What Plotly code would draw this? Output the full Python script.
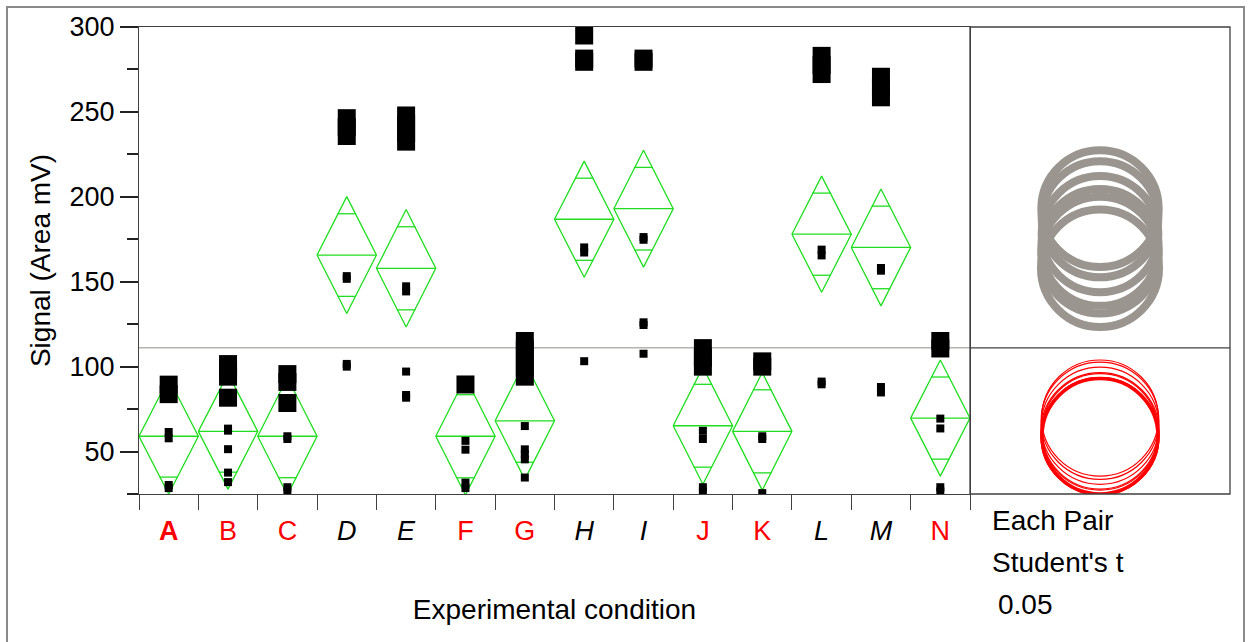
import plotly.graph_objects as go
import math

# ---------------- data ----------------
categories = ["A", "B", "C", "D", "E", "F", "G", "H", "I", "J", "K", "L", "M", "N"]
same_as_A = [True, True, True, False, False, True, True, False, False, True, True, False, False, True]
group_means = [59.0, 61.9, 59.0, 165.7, 157.9, 59.0, 68.1, 186.8, 193.0, 65.2, 61.9, 178.0, 170.2, 69.7]
ci_half = [34.0, 34.0, 34.5, 34.4, 34.6, 34.6, 34.5, 34.2, 34.4, 34.5, 34.6, 34.2, 34.4, 34.2]

# clustered (overlapping) observations, drawn with large markers
cluster_A = [89.4, 83.8]
cluster_B = [101.5, 97.8, 94.1, 81.7]
cluster_C = [95.6, 91.0, 78.6]
cluster_D = [246.3, 241.0, 235.8]
cluster_E = [247.9, 242.8, 237.6, 232.5]
cluster_F = [89.5]
cluster_G = [115.1, 110.0, 104.6, 99.3, 94.1]
cluster_H = [295.0, 281.4, 279.5]
cluster_I = [281.4, 279.5]
cluster_J = [110.9, 105.4, 100.0]
cluster_K = [103.1, 100.0]
cluster_L = [283.0, 277.6, 272.3]
cluster_M = [270.7, 264.6, 258.6]
cluster_N = [115.1, 110.7]

# single observations, drawn with small markers
single_A = [61.5, 57.8, 30.3, 28.5]
single_B = [63.5, 62.3, 51.4, 37.6, 32.0]
single_C = [59.0, 57.4, 29.0, 26.5]
single_D = [153.3, 151.7, 101.6, 100.0]
single_E = [147.3, 144.3, 97.1, 83.3, 81.7]
single_F = [56.3, 51.1, 31.7, 28.5]
single_G = [65.0, 51.3, 48.4, 45.4, 34.7]
single_H = [170.2, 167.2, 103.2]
single_I = [176.3, 174.7, 126.1, 124.5, 107.6]
single_J = [62.2, 57.4, 29.0, 26.5]
single_K = [59.0, 57.4, 25.5]
single_L = [168.9, 165.5, 91.2, 89.6]
single_M = [158.1, 156.5, 88.0, 84.8]
single_N = [69.4, 63.6, 29.0, 26.5]

clusters = [cluster_A, cluster_B, cluster_C, cluster_D, cluster_E, cluster_F, cluster_G,
            cluster_H, cluster_I, cluster_J, cluster_K, cluster_L, cluster_M, cluster_N]
singles = [single_A, single_B, single_C, single_D, single_E, single_F, single_G,
           single_H, single_I, single_J, single_K, single_L, single_M, single_N]

y_tick_values = [50, 100, 150, 200, 250, 300]
y_range = [25, 300]
alpha_text = ["Each Pair", "Student's t", "0.05"]

# ---------------- layout geometry ----------------
W, H = 1248, 642
ML, MR, MT, MB = 139, 18, 25, 148
plot_w = W - ML - MR
plot_h = H - MT - MB
main_frac = 831 / plot_w
px_per_unit = plot_h / (y_range[1] - y_range[0])
x2_span = (plot_w * (1 - main_frac)) / px_per_unit

GREEN = "rgb(30,222,30)"
RED = "#ff0000"
GRAY = "#9a968f"
AXIS = "#404040"
FONT = "Liberation Sans, Arial, sans-serif"
TXT = 28

fig = go.Figure()

# means diamonds
dx, dy = [], []
mx, my = [], []
ox, oy = [], []
ow = 0.155
for i, (m, h) in enumerate(zip(group_means, ci_half)):
    c = i + 0.5
    dx += [i, c, i + 1, c, i, None]
    dy += [m, m + h, m, m - h, m, None]
    mx += [i, i + 1, None]
    my += [m, m, None]
    for s in (1, -1):
        ox += [c - ow, c + ow, None]
        oy += [m + s * h / math.sqrt(2), m + s * h / math.sqrt(2), None]

fig.add_trace(go.Scatter(x=dx, y=dy, mode="lines", line=dict(color=GREEN, width=1.3),
                         hoverinfo="skip", showlegend=False))
fig.add_trace(go.Scatter(x=mx, y=my, mode="lines", line=dict(color=GREEN, width=1.3),
                         hoverinfo="skip", showlegend=False))
fig.add_trace(go.Scatter(x=ox, y=oy, mode="lines", line=dict(color=GREEN, width=1.3),
                         hoverinfo="skip", showlegend=False))

# observations
px_, py_ = [], []
for i, vals in enumerate(clusters):
    px_ += [i + 0.5] * len(vals)
    py_ += vals
fig.add_trace(go.Scatter(x=px_, y=py_, mode="markers",
                         marker=dict(symbol="square", size=18, color="black", line=dict(width=0)),
                         showlegend=False))
sx, sy = [], []
for i, vals in enumerate(singles):
    sx += [i + 0.5] * len(vals)
    sy += vals
fig.add_trace(go.Scatter(x=sx, y=sy, mode="markers",
                         marker=dict(symbol="square", size=8, color="black", line=dict(width=0)),
                         showlegend=False))

# invisible trace to create the comparison-circle subplot
fig.add_trace(go.Scatter(x=[x2_span / 2], y=[group_means[0]], xaxis="x2", yaxis="y",
                         mode="markers", marker=dict(opacity=0), hoverinfo="skip", showlegend=False))

grand_mean = sum(group_means) / len(group_means)

shapes = []
# grand mean line
shapes.append(dict(type="line", xref="x domain", yref="y", x0=0, x1=1, y0=grand_mean, y1=grand_mean,
                   line=dict(color="#b4b4b0", width=1.5), layer="below"))
shapes.append(dict(type="line", xref="x2 domain", yref="y", x0=0, x1=1, y0=grand_mean, y1=grand_mean,
                   line=dict(color=AXIS, width=1.2)))
# comparison circles
cx = x2_span / 2
order = [i for i in range(len(categories)) if not same_as_A[i]] + \
        [i for i in range(len(categories)) if same_as_A[i] and i != 0] + [0]
for i in order:
    m, r = group_means[i], ci_half[i]
    if same_as_A[i]:
        col = RED
        lw = 3.5 if i == 0 else 1.2
    else:
        col = GRAY
        lw = 8
    shapes.append(dict(type="circle", xref="x2", yref="y", x0=cx - r, x1=cx + r, y0=m - r, y1=m + r,
                       line=dict(color=col, width=lw)))
# right panel box
shapes.append(dict(type="rect", xref="x2 domain", yref="y domain", x0=0, x1=1, y0=0, y1=1,
                   line=dict(color=AXIS, width=1.3)))
# outer frame
shapes.append(dict(type="rect", xref="paper", yref="paper",
                   x0=(7 - ML) / plot_w, x1=(1244 - ML) / plot_w,
                   y0=-(H - MT + 20 - plot_h) / plot_h, y1=(plot_h + MT - 5) / plot_h,
                   line=dict(color="#8a8a8a", width=2)))

annotations = []
for k, t in enumerate(alpha_text):
    annotations.append(dict(text=t, xref="paper", yref="paper",
                            x=(990 + (6 if k == 2 else 0) - ML) / plot_w,
                            y=(MT + plot_h - (521 + 42 * k)) / plot_h,
                            xanchor="left", yanchor="middle", showarrow=False,
                            font=dict(family=FONT, size=TXT, color="black")))

ticktext = []
for i, c in enumerate(categories):
    if same_as_A[i]:
        t = f"<span style='color:{RED}'>{'<b>' + c + '</b>' if i == 0 else c}</span>"
    else:
        t = f"<i>{c}</i>"
    ticktext.append(t)

fig.update_layout(
    width=W, height=H,
    margin=dict(l=ML, r=MR, t=MT, b=MB),
    paper_bgcolor="white", plot_bgcolor="white",
    font=dict(family=FONT, size=TXT, color="black"),
    xaxis=dict(domain=[0, main_frac], range=[0, len(categories)], showgrid=False, zeroline=False,
               tickmode="array", tickvals=[i + 0.5 for i in range(len(categories))], ticktext=ticktext,
               ticks="outside", ticklen=12, tickcolor="rgba(0,0,0,0)",
               minor=dict(tickmode="linear", tick0=0, dtick=1, ticks="outside", ticklen=15,
                          tickwidth=1.2, tickcolor=AXIS),
               showline=True, linecolor=AXIS, linewidth=1.3, mirror=True,
               tickfont=dict(size=27),
               title=dict(text="Experimental condition", font=dict(size=TXT), standoff=54)),
    xaxis2=dict(domain=[main_frac, 1], range=[0, x2_span], anchor="y", showgrid=False, zeroline=False,
                showticklabels=False, ticks="", showline=False),
    yaxis=dict(range=y_range, showgrid=False, zeroline=False, tickmode="array", tickvals=y_tick_values,
               ticks="outside", ticklen=18, tickwidth=2, tickcolor="#222",
               minor=dict(tickmode="linear", tick0=25, dtick=50, ticks="outside", ticklen=11,
                          tickwidth=2, tickcolor="#222"),
               showline=True, linecolor=AXIS, linewidth=1.3, mirror=True,
               tickfont=dict(size=27),
               title=dict(text="Signal (Area mV)", font=dict(size=TXT), standoff=10)),
    shapes=shapes,
    annotations=annotations,
)

fig.write_html("out.html")
